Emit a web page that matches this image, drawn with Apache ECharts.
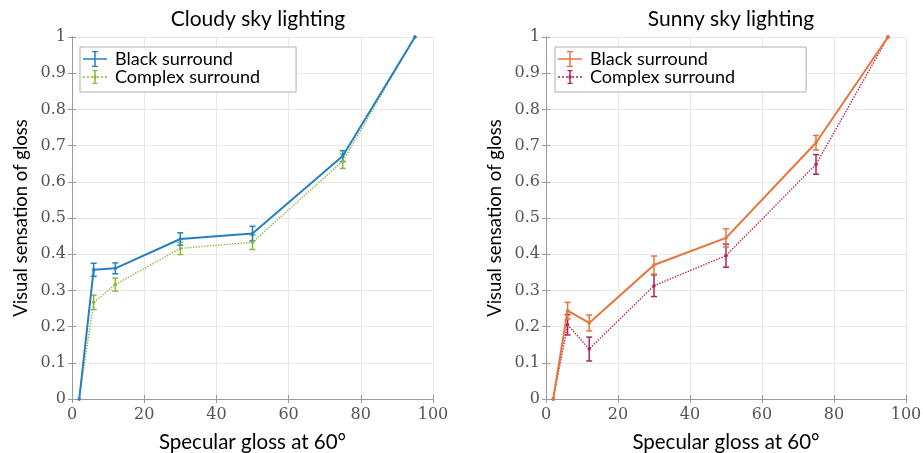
<!DOCTYPE html>
<html>
<head>
<meta charset="utf-8">
<script src="https://cdn.jsdelivr.net/npm/echarts@6/dist/echarts.min.js"></script>
<style>html,body{margin:0;padding:0;background:#fff}#c{width:923px;height:453px}</style>
</head>
<body>
<div id="c"></div>
<script>
const xGloss = [2, 6, 12, 30, 50, 75, 95];
const cloudyBlack = [0, 0.357, 0.361, 0.442, 0.457, 0.671, 1.0];
const cloudyBlackErr = [0, 0.018, 0.015, 0.017, 0.02, 0.015, 0];
const cloudyComplex = [0, 0.267, 0.316, 0.416, 0.433, 0.657, 1.0];
const cloudyComplexErr = [0, 0.02, 0.018, 0.017, 0.02, 0.02, 0];
const sunnyBlack = [0, 0.244, 0.21, 0.370, 0.445, 0.708, 1.0];
const sunnyBlackErr = [0, 0.023, 0.022, 0.025, 0.025, 0.02, 0];
const sunnyComplex = [0, 0.205, 0.138, 0.313, 0.396, 0.648, 1.0];
const sunnyComplexErr = [0, 0.028, 0.033, 0.03, 0.032, 0.027, 0];
const xTicks = [0, 20, 40, 60, 80, 100];
const yTicks = [0, 0.1, 0.2, 0.3, 0.4, 0.5, 0.6, 0.7, 0.8, 0.9, 1];
const titles = ['Cloudy sky lighting', 'Sunny sky lighting'];
const xName = 'Specular gloss at 60°';
const yName = 'Visual sensation of gloss';

const C = { blue: '#2580c3', green: '#8db83e', orange: '#e8753a', pink: '#b0245a' };
const sans = 'Lato';
const serif = 'DejaVu Serif';

function pts(ys) { return xGloss.map((x, i) => [x, ys[i]]); }
function errPts(ys, es) { return xGloss.map((x, i) => [x, ys[i], es[i]]); }

function errSeries(name, ys, es, color, gi) {
  return {
    type: 'custom', name: name, xAxisIndex: gi * 2, yAxisIndex: gi * 2, z: 3,
    data: errPts(ys, es),
    renderItem: function (params, api) {
      const x = api.value(0), y = api.value(1), e = api.value(2);
      if (!e) return null;
      const top = api.coord([x, y + e]);
      const bot = api.coord([x, y - e]);
      const cw = 3;
      const st = { stroke: color, lineWidth: 1.5 };
      return {
        type: 'group', children: [
          { type: 'line', shape: { x1: top[0], y1: top[1], x2: bot[0], y2: bot[1] }, style: st },
          { type: 'line', shape: { x1: top[0] - cw, y1: top[1], x2: top[0] + cw, y2: top[1] }, style: st },
          { type: 'line', shape: { x1: bot[0] - cw, y1: bot[1], x2: bot[0] + cw, y2: bot[1] }, style: st }
        ]
      };
    }
  };
}

function lineSeries(name, ys, color, gi, dotted) {
  return {
    type: 'line', name: name, xAxisIndex: gi * 2, yAxisIndex: gi * 2, z: 4,
    data: pts(ys),
    symbol: 'circle', symbolSize: 3.5,
    itemStyle: { color: color },
    lineStyle: { color: color, width: dotted ? 1.4 : 2, type: dotted ? 'dotted' : 'solid' },
    animation: false
  };
}

const grids = [
  { left: 72, right: 490, top: 37, bottom: 54, outerBoundsMode: 'none', containLabel: false },
  { left: 546, right: 17, top: 37, bottom: 54, outerBoundsMode: 'none', containLabel: false }
];

const xAxes = [], yAxes = [];
grids.forEach((g, gi) => {
  xAxes.push({
    type: 'value', gridIndex: gi, min: 0, max: 100, interval: 20, position: 'bottom',
    name: xName, nameLocation: 'middle', nameGap: 33,
    nameTextStyle: { fontFamily: sans, fontSize: 20.5, color: '#000' },
    axisLine: { show: true, lineStyle: { color: '#9a9a9a', width: 1 } },
    axisTick: { show: true, inside: true, length: 4, lineStyle: { color: '#9a9a9a' } },
    axisLabel: { fontFamily: serif, fontSize: 16, color: '#555', margin: 8 },
    splitLine: { show: true, lineStyle: { color: '#e8e8e8', width: 1 } }
  });
  xAxes.push({
    type: 'value', gridIndex: gi, min: 0, max: 100, interval: 20, position: 'top',
    axisLine: { show: true, lineStyle: { color: '#9a9a9a', width: 1 } },
    axisTick: { show: true, inside: true, length: 4, lineStyle: { color: '#9a9a9a' } },
    axisLabel: { show: false }, splitLine: { show: false }
  });
  yAxes.push({
    type: 'value', gridIndex: gi, min: 0, max: 1, interval: 0.1, position: 'left',
    name: yName, nameLocation: 'middle', nameGap: 41, nameRotate: 90,
    nameTextStyle: { fontFamily: sans, fontSize: 18.5, color: '#000' },
    axisLine: { show: true, lineStyle: { color: '#9a9a9a', width: 1 } },
    axisTick: { show: true, inside: true, length: 4, lineStyle: { color: '#9a9a9a' } },
    axisLabel: { fontFamily: serif, fontSize: 16, color: '#555', margin: 6,
      formatter: v => (v === 0 ? '0' : v === 1 ? '1' : v.toFixed(1)) },
    splitLine: { show: true, lineStyle: { color: '#e8e8e8', width: 1 } }
  });
  yAxes.push({
    type: 'value', gridIndex: gi, min: 0, max: 1, interval: 0.1, position: 'right',
    axisLine: { show: true, lineStyle: { color: '#9a9a9a', width: 1 } },
    axisTick: { show: true, inside: true, length: 4, lineStyle: { color: '#9a9a9a' } },
    axisLabel: { show: false }, splitLine: { show: false }
  });
});

const solidIcon = 'path://M0,7.25h24v1.5h-24z M11.25,0h1.5v16h-1.5z M9,0h6v1.2h-6z M9,14.8h6v1.2h-6z';
const dotIcon = 'path://M0,7.3h2v1.4h-2z M4,7.3h2v1.4h-2z M8,7.3h2v1.4h-2z M14,7.3h2v1.4h-2z M18,7.3h2v1.4h-2z M22,7.3h2v1.4h-2z M11.25,1h1.5v14h-1.5z M9.5,1h5v1.2h-5z M9.5,13.8h5v1.2h-5z M10.5,6.5h3v3h-3z';

const legendBase = {
  orient: 'vertical', top: 47, itemWidth: 24, itemHeight: 16, itemGap: 0,
  backgroundColor: '#fff', borderColor: '#b0b0b0', borderWidth: 1, borderRadius: 0,
  textStyle: { fontFamily: sans, fontSize: 18, lineHeight: 18, color: '#000', padding: [0, 0, 0, 3] },
  selectedMode: false
};

const option = {
  animation: false,
  backgroundColor: '#fff',
  title: [
    { text: titles[0], left: 253, top: 4, textAlign: 'center',
      textStyle: { fontFamily: sans, fontSize: 21, fontWeight: 'normal', color: '#000' } },
    { text: titles[1], left: 726, top: 4, textAlign: 'center',
      textStyle: { fontFamily: sans, fontSize: 21, fontWeight: 'normal', color: '#000' } }
  ],
  grid: grids,
  xAxis: xAxes,
  yAxis: yAxes,
  legend: [
    Object.assign({}, legendBase, {
      left: 80, padding: [3, 36, 6, 3],
      data: [
        { name: 'Black surround', icon: solidIcon, itemStyle: { color: C.blue } },
        { name: 'Complex surround', icon: dotIcon, itemStyle: { color: C.green } }
      ]
    }),
    Object.assign({}, legendBase, {
      left: 555, padding: [3, 71, 6, 3],
      formatter: n => n.replace(' (sunny)', ''),
      data: [
        { name: 'Black surround (sunny)', icon: solidIcon, itemStyle: { color: C.orange } },
        { name: 'Complex surround (sunny)', icon: dotIcon, itemStyle: { color: C.pink } }
      ]
    })
  ],
  series: [
    lineSeries('Complex surround', cloudyComplex, C.green, 0, true),
    errSeries('Complex surround', cloudyComplex, cloudyComplexErr, C.green, 0),
    lineSeries('Black surround', cloudyBlack, C.blue, 0, false),
    errSeries('Black surround', cloudyBlack, cloudyBlackErr, C.blue, 0),
    lineSeries('Complex surround (sunny)', sunnyComplex, C.pink, 1, true),
    errSeries('Complex surround (sunny)', sunnyComplex, sunnyComplexErr, C.pink, 1),
    lineSeries('Black surround (sunny)', sunnyBlack, C.orange, 1, false),
    errSeries('Black surround (sunny)', sunnyBlack, sunnyBlackErr, C.orange, 1)
  ]
};

const chart = echarts.init(document.getElementById('c'), null, { renderer: 'canvas' });
chart.setOption(option);
</script>
</body>
</html>
